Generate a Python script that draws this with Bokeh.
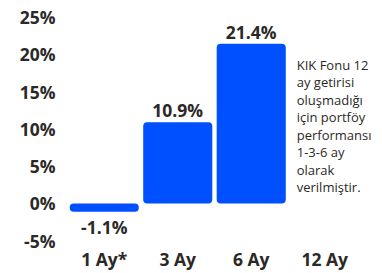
from bokeh.plotting import figure
from bokeh.models import ColumnDataSource, FixedTicker, PrintfTickFormatter, Range1d
from bokeh.core.properties import value
from bokeh.embed import file_html
from bokeh.resources import INLINE

categories = ["1 Ay*", "3 Ay", "6 Ay", "12 Ay"]
bar_cats = ["1 Ay*", "3 Ay", "6 Ay"]
returns = [-1.1, 10.9, 21.4]
value_labels = ["-1.1%", "10.9%", "21.4%"]
y_ticks = [-5, 0, 5, 10, 15, 20, 25]
note_lines = ["KIK Fonu 12", "ay getirisi", "oluşmadığı", "için portföy",
              "performansı", "1-3-6 ay", "olarak", "verilmiştir."]

BLUE = "#0050ff"
DARK = "#2b2926"

cat_pos = list(range(len(categories)))
bar_pos = [categories.index(c) for c in bar_cats]

p = figure(x_range=Range1d(-0.5, len(categories) - 0.5 + 0.286), y_range=Range1d(-5.5, 26.14),
           width=382, height=273, output_backend="svg", toolbar_location=None,
           min_border_left=67, min_border_right=0, min_border_top=8, min_border_bottom=29)
p.outline_line_color = None
p.xgrid.grid_line_color = None
p.ygrid.grid_line_color = None
p.background_fill_color = None
p.border_fill_color = None

src = ColumnDataSource(dict(x=bar_pos, top=returns, lab=value_labels,
                            base=["bottom" if v >= 0 else "top" for v in returns],
                            yoff=[0 if v >= 0 else 3 for v in returns]))
p.vbar(x="x", top="top", bottom=0, width=0.94, source=src, fill_color=BLUE,
       line_color=None, border_radius=4)
p.text(x="x", y="top", text="lab", source=src, text_align="center",
       text_baseline="base", y_offset="yoff", text_font=value("Open Sans"),
       text_font_style="bold", text_font_size="17.5px", text_color=DARK)

note_x = categories.index("12 Ay")
p.text(x=[note_x], y=[19.8], text=["\n".join(note_lines)], x_offset=-28,
       text_align="left", text_baseline="top", text_font=value("Open Sans"),
       text_font_size="13px", text_color=DARK, text_line_height=0.97)

p.xaxis.ticker = FixedTicker(ticks=cat_pos)
p.xaxis.major_label_overrides = {i: c for i, c in zip(cat_pos, categories)}
p.yaxis.ticker = FixedTicker(ticks=y_ticks)
p.yaxis.formatter = PrintfTickFormatter(format="%d%%")
for ax in (p.xaxis, p.yaxis):
    ax.axis_line_color = None
    ax.major_tick_line_color = None
    ax.minor_tick_line_color = None
    ax.major_tick_out = 0
    ax.major_tick_in = 0
    ax.minor_tick_out = 0
    ax.major_label_text_font = "Open Sans"
    ax.major_label_text_font_style = "bold"
    ax.major_label_text_font_size = "17.5px"
    ax.major_label_text_color = DARK
p.yaxis.major_label_standoff = 12
p.xaxis.major_label_standoff = 2

open("out.html", "w").write(file_html(p, INLINE))
